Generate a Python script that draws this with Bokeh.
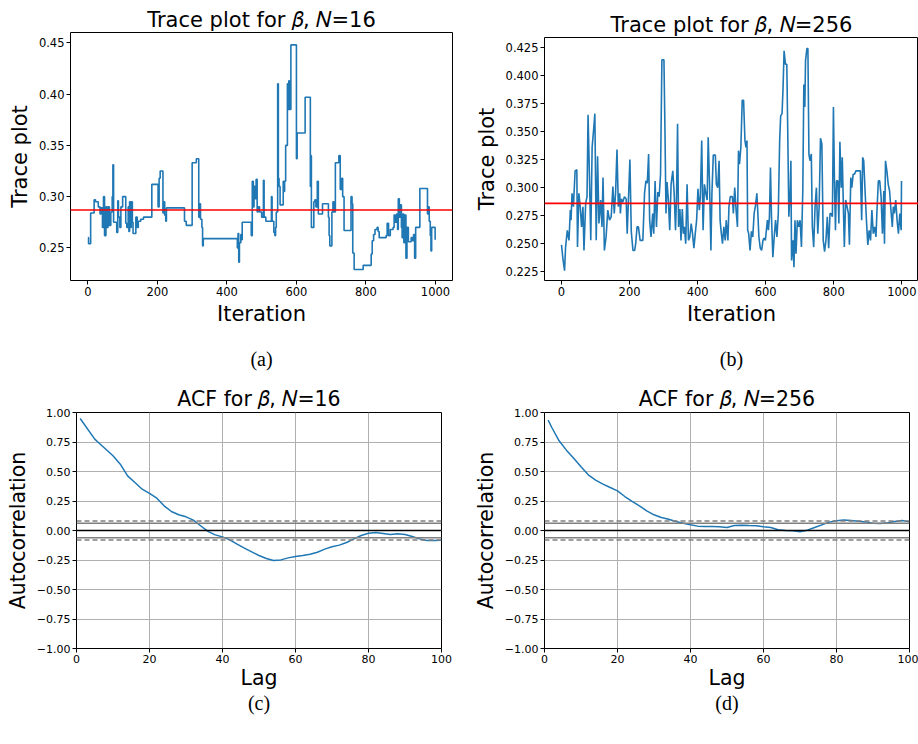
import numpy as np
from bokeh.plotting import figure
from bokeh.layouts import column, row
from bokeh.models import (Range1d, FixedTicker, LinearAxis, Span,
                          CustomJSTickFormatter, PrintfTickFormatter)
from bokeh.embed import file_html
from bokeh.resources import INLINE

# ---------------------------------------------------------------- data
# Trace of beta for N=16 (piecewise-constant chain: iteration where a new value starts)
a_iter = [0, 2, 8, 18, 22, 30, 35, 38, 42, 45,
          48, 52, 55, 58, 62, 66, 70, 72, 74, 80,
          83, 86, 88, 92, 95, 100, 109, 112, 116, 118,
          120, 123, 125, 128, 130, 138, 142, 145, 152, 160,
          184, 202, 205, 208, 216, 219, 221, 224, 226, 278,
          283, 300, 312, 319, 322, 324, 328, 330, 332, 430,
          432, 434, 436, 440, 442, 444, 470, 473, 476, 478,
          481, 484, 487, 490, 494, 500, 505, 507, 512, 528,
          530, 535, 538, 540, 542, 546, 548, 550, 553, 562,
          564, 566, 569, 574, 576, 578, 580, 584, 600, 602,
          625, 640, 641, 643, 650, 653, 656, 660, 663, 675,
          692, 694, 696, 702, 705, 708, 712, 722, 726, 730,
          733, 737, 757, 760, 762, 766, 792, 815, 818, 822,
          826, 832, 835, 838, 858, 861, 865, 870, 878, 881,
          884, 888, 891, 893, 896, 899, 902, 904, 906, 909,
          912, 915, 918, 922, 930, 934, 937, 940, 943, 955,
          977, 979, 982, 985, 987, 989, 999]
a_value = [0.260, 0.254, 0.284, 0.297, 0.295, 0.290, 0.283, 0.289, 0.270, 0.300,
           0.262, 0.290, 0.270, 0.290, 0.272, 0.285, 0.300, 0.331, 0.275, 0.275,
           0.265, 0.296, 0.280, 0.270, 0.290, 0.300, 0.274, 0.270, 0.290, 0.266,
           0.295, 0.270, 0.295, 0.275, 0.264, 0.280, 0.270, 0.276, 0.278, 0.280,
           0.312, 0.290, 0.318, 0.325, 0.284, 0.295, 0.282, 0.276, 0.289, 0.276,
           0.272, 0.333, 0.337, 0.280, 0.293, 0.278, 0.270, 0.252, 0.259, 0.250,
           0.264, 0.236, 0.255, 0.263, 0.258, 0.275, 0.262, 0.315, 0.290, 0.310,
           0.298, 0.317, 0.285, 0.290, 0.285, 0.280, 0.316, 0.280, 0.276, 0.300,
           0.276, 0.265, 0.262, 0.270, 0.285, 0.410, 0.318, 0.310, 0.292, 0.315,
           0.305, 0.315, 0.350, 0.410, 0.385, 0.413, 0.385, 0.448, 0.337, 0.362,
           0.397, 0.310, 0.340, 0.270, 0.295, 0.297, 0.290, 0.315, 0.283, 0.293,
           0.280, 0.262, 0.252, 0.285, 0.295, 0.285, 0.333, 0.340, 0.307, 0.318,
           0.300, 0.267, 0.300, 0.293, 0.245, 0.229, 0.233, 0.244, 0.257, 0.263,
           0.268, 0.270, 0.266, 0.260, 0.262, 0.274, 0.262, 0.268, 0.270, 0.282,
           0.275, 0.283, 0.268, 0.298, 0.280, 0.292, 0.270, 0.260, 0.283, 0.255,
           0.282, 0.240, 0.270, 0.256, 0.260, 0.257, 0.263, 0.240, 0.270, 0.308,
           0.283, 0.290, 0.276, 0.262, 0.247, 0.270, 0.258]

# Trace of beta for N=256
b_iter = [0, 4, 9, 12, 17, 22, 26, 28, 31, 35,
          40, 45, 47, 51, 55, 59, 63, 66, 71, 75,
          78, 82, 86, 90, 95, 98, 102, 106, 110, 115,
          119, 122, 126, 131, 136, 141, 146, 151, 155, 159,
          163, 167, 171, 173, 176, 180, 185, 190, 193, 197,
          201, 205, 210, 215, 218, 222, 226, 231, 239, 244,
          248, 252, 256, 259, 263, 268, 271, 275, 279, 283,
          287, 291, 295, 301, 304, 307, 310, 314, 318, 322,
          327, 331, 335, 338, 341, 344, 348, 351, 355, 358,
          361, 365, 369, 373, 377, 381, 385, 389, 393, 397,
          401, 405, 408, 412, 416, 420, 424, 428, 431, 435,
          439, 442, 446, 452, 455, 459, 463, 466, 469, 473,
          477, 481, 484, 489, 492, 496, 502, 505, 509, 513,
          517, 520, 523, 527, 531, 535, 539, 542, 545, 547,
          550, 554, 558, 562, 566, 570, 574, 577, 580, 584,
          588, 592, 595, 599, 602, 605, 608, 611, 614, 617,
          621, 625, 629, 633, 637, 641, 644, 648, 651, 654,
          658, 662, 665, 668, 672, 674, 676, 680, 683, 686,
          689, 693, 697, 701, 705, 709, 712, 715, 717, 721,
          724, 727, 730, 734, 737, 741, 745, 749, 753, 757,
          761, 765, 769, 773, 777, 781, 785, 789, 792, 796,
          799, 802, 805, 808, 812, 815, 818, 822, 825, 828,
          831, 835, 839, 843, 846, 850, 853, 857, 861, 865,
          878, 882, 885, 888, 892, 896, 900, 904, 908, 912,
          916, 920, 924, 927, 931, 935, 939, 943, 947, 949,
          952, 956, 960, 964, 968, 972, 975, 978, 982, 986,
          990, 994, 998, 999]
b_value = [0.249, 0.237, 0.226, 0.247, 0.262, 0.253, 0.280, 0.271, 0.295, 0.283,
           0.315, 0.316, 0.247, 0.295, 0.283, 0.265, 0.283, 0.244, 0.286, 0.292,
           0.365, 0.312, 0.253, 0.336, 0.354, 0.366, 0.253, 0.328, 0.268, 0.289,
           0.265, 0.309, 0.244, 0.256, 0.280, 0.271, 0.274, 0.301, 0.277, 0.296,
           0.334, 0.283, 0.295, 0.277, 0.290, 0.287, 0.292, 0.290, 0.259, 0.292,
           0.325, 0.261, 0.244, 0.244, 0.250, 0.265, 0.265, 0.253, 0.253, 0.295,
           0.306, 0.304, 0.330, 0.271, 0.256, 0.277, 0.259, 0.306, 0.265, 0.296,
           0.292, 0.312, 0.414, 0.414, 0.351, 0.277, 0.305, 0.289, 0.262, 0.303,
           0.315, 0.295, 0.262, 0.292, 0.357, 0.265, 0.281, 0.253, 0.281, 0.259,
           0.265, 0.250, 0.303, 0.253, 0.256, 0.268, 0.259, 0.246, 0.259, 0.271,
           0.299, 0.280, 0.292, 0.342, 0.262, 0.303, 0.295, 0.289, 0.345, 0.303,
           0.244, 0.295, 0.329, 0.329, 0.303, 0.300, 0.324, 0.271, 0.261, 0.250,
           0.265, 0.253, 0.271, 0.253, 0.283, 0.292, 0.292, 0.277, 0.300, 0.280,
           0.265, 0.333, 0.321, 0.336, 0.378, 0.378, 0.342, 0.336, 0.342, 0.262,
           0.259, 0.244, 0.261, 0.256, 0.277, 0.284, 0.295, 0.277, 0.256, 0.246,
           0.244, 0.253, 0.255, 0.253, 0.262, 0.271, 0.262, 0.274, 0.318, 0.274,
           0.238, 0.256, 0.271, 0.256, 0.277, 0.342, 0.364, 0.366, 0.389, 0.422,
           0.410, 0.410, 0.345, 0.274, 0.297, 0.324, 0.235, 0.253, 0.229, 0.271,
           0.241, 0.271, 0.265, 0.271, 0.247, 0.297, 0.392, 0.372, 0.413, 0.424,
           0.424, 0.330, 0.324, 0.330, 0.265, 0.247, 0.283, 0.300, 0.259, 0.283,
           0.344, 0.339, 0.253, 0.243, 0.253, 0.274, 0.246, 0.277, 0.277, 0.274,
           0.372, 0.306, 0.262, 0.306, 0.306, 0.268, 0.341, 0.300, 0.327, 0.286,
           0.247, 0.289, 0.283, 0.277, 0.249, 0.309, 0.300, 0.312, 0.312, 0.315,
           0.315, 0.271, 0.327, 0.324, 0.297, 0.271, 0.249, 0.262, 0.253, 0.280,
           0.259, 0.265, 0.256, 0.280, 0.306, 0.306, 0.292, 0.259, 0.297, 0.250,
           0.324, 0.315, 0.303, 0.297, 0.280, 0.265, 0.283, 0.277, 0.289, 0.271,
           0.259, 0.277, 0.262, 0.306]

# Reference value of beta drawn across each trace
beta_ref_16 = 0.287
beta_ref_256 = 0.286

# Autocorrelation functions
c_lag = [1, 5, 6, 10, 12, 14, 16, 18, 20, 22, 24, 26, 28, 30, 32, 34, 36, 38, 40,
         42, 44, 46, 48, 50, 52, 54, 56, 58, 60, 62, 64, 66, 68, 70, 72, 74, 76,
         78, 80, 82, 84, 86, 88, 90, 92, 94, 96, 98, 100]
c_acf = [0.949, 0.774, 0.746, 0.633, 0.562, 0.463, 0.407, 0.350, 0.314, 0.274,
         0.209, 0.161, 0.133, 0.116, 0.088, 0.040, -0.008, -0.037, -0.054,
         -0.079, -0.116, -0.150, -0.181, -0.212, -0.237, -0.254, -0.249, -0.232,
         -0.220, -0.212, -0.201, -0.184, -0.158, -0.138, -0.124, -0.102, -0.071,
         -0.042, -0.023, -0.017, -0.025, -0.034, -0.028, -0.034, -0.051, -0.071,
         -0.085, -0.085, -0.082]
d_lag = [1, 2, 4, 6, 8, 10, 12, 14, 16, 18, 20, 22, 24, 26, 28, 30, 32, 34, 36,
         38, 40, 42, 44, 46, 48, 50, 52, 54, 56, 58, 60, 62, 64, 66, 68, 70, 72,
         74, 76, 78, 80, 82, 84, 86, 88, 90, 92, 94, 96, 98, 100]
d_acf = [0.935, 0.873, 0.760, 0.681, 0.613, 0.540, 0.472, 0.427, 0.393, 0.364,
         0.336, 0.288, 0.246, 0.209, 0.167, 0.133, 0.110, 0.096, 0.076, 0.062,
         0.048, 0.037, 0.034, 0.034, 0.031, 0.025, 0.042, 0.045, 0.042, 0.040,
         0.031, 0.025, 0.006, 0.000, -0.003, -0.011, 0.003, 0.025, 0.048, 0.071,
         0.082, 0.088, 0.085, 0.079, 0.073, 0.062, 0.059, 0.065, 0.076, 0.085,
         0.073]

# 95% / 99% confidence bands for a chain of 1000 draws
conf95 = 0.062
conf99 = 0.081

trace_xticks = [0, 200, 400, 600, 800, 1000]
trace_a_yticks = [0.25, 0.30, 0.35, 0.40, 0.45]
trace_b_yticks = [0.225, 0.250, 0.275, 0.300, 0.325, 0.350, 0.375, 0.400, 0.425]
acf_xticks = [0, 20, 40, 60, 80, 100]
acf_yticks = [-1.0, -0.75, -0.5, -0.25, 0.0, 0.25, 0.5, 0.75, 1.0]

BLUE = "#1f77b4"
SANS = "DejaVu Sans"
SERIF = "Liberation Serif"
BETA = "\U0001D6FD"
N_IT = "\U0001D441"


def make_fig(title, width, height, left, right, top, bottom, x_range, y_range,
             title_size, label_size, tick_size, title_standoff):
    p = figure(width=width, height=height, x_range=x_range, y_range=y_range,
               output_backend="svg", toolbar_location=None,
               min_border_left=left, min_border_right=right,
               min_border_top=top, min_border_bottom=bottom)
    p.frame_align = False
    p.title.text = title
    p.title.align = "center"
    p.title.text_font = SANS
    p.title.text_font_size = title_size
    p.title.text_font_style = "normal"
    p.title.text_color = "black"
    p.title.standoff = title_standoff
    p.outline_line_color = "black"
    p.outline_line_width = 1
    p.outline_line_alpha = 1
    p.background_fill_color = "white"
    p.border_fill_color = "white"
    for ax in (p.xaxis[0], p.yaxis[0]):
        ax.axis_line_color = None
        ax.major_tick_out = 4
        ax.major_tick_in = 0
        ax.major_tick_line_color = "black"
        ax.minor_tick_line_color = None
        ax.major_label_text_font = SANS
        ax.major_label_text_font_size = tick_size
        ax.major_label_text_color = "black"
        ax.major_label_standoff = 2
        ax.axis_label_text_font = SANS
        ax.axis_label_text_font_size = label_size
        ax.axis_label_text_font_style = "normal"
        ax.axis_label_text_color = "black"
        ax.axis_label_standoff = 4
    return p


def add_caption(p, text, standoff):
    cap = LinearAxis(ticker=FixedTicker(ticks=[]), axis_label=text,
                     axis_line_color=None, major_tick_line_color=None,
                     minor_tick_line_color=None, major_tick_out=0,
                     major_label_text_font_size="0px",
                     axis_label_text_font=SERIF, axis_label_text_font_size="20px",
                     axis_label_text_font_style="normal",
                     axis_label_text_color="black", axis_label_standoff=standoff)
    p.add_layout(cap, "below")


def trace_fig(title, left, right, top, y_range, yticks, fmt):
    p = make_fig(title, 459, 372, left, right, top, 92,
                 Range1d(-49.95, 1048.95), y_range, "21px", "21px", "11.5px", 1)
    p.grid.visible = False
    p.xaxis[0].ticker = FixedTicker(ticks=trace_xticks)
    p.yaxis[0].ticker = FixedTicker(ticks=yticks)
    p.yaxis[0].formatter = PrintfTickFormatter(format=fmt)
    p.xaxis[0].axis_label = "Iteration"
    p.xaxis[0].axis_label_standoff = 3
    p.yaxis[0].axis_label = "Trace plot"
    return p


def acf_fig(title, left, right, lag, acf):
    p = make_fig(title, 459, 372, left, right, 40, 96,
                 Range1d(0, 100), Range1d(-1, 1), "20.5px", "20.5px", "11px", 4)
    p.xaxis[0].ticker = FixedTicker(ticks=acf_xticks)
    p.yaxis[0].ticker = FixedTicker(ticks=acf_yticks)
    p.yaxis[0].formatter = CustomJSTickFormatter(
        code="return tick.toFixed(2).replace('-', '\\u2212');")
    p.xaxis[0].axis_label = "Lag"
    p.xaxis[0].axis_label_standoff = 0
    p.yaxis[0].axis_label = "Autocorrelation"
    p.grid.grid_line_color = "#b0b0b0"
    p.grid.grid_line_width = 1
    for level in (conf99, -conf99):
        p.add_layout(Span(location=level, dimension="width", line_color="grey",
                          line_width=1.5, line_dash="5 3"))
    for level in (conf95, -conf95):
        p.add_layout(Span(location=level, dimension="width", line_color="grey",
                          line_width=1.5))
    p.add_layout(Span(location=0.0, dimension="width", line_color="black",
                      line_width=1.5))
    p.line(lag, acf, line_color=BLUE, line_width=1.5)
    return p


# (a) trace plot, N=16
pa = trace_fig(f"Trace plot for {BETA}, {N_IT}=16", 70, 7, 32,
               Range1d(0.2182, 0.4601), trace_a_yticks, "%.2f")
pa.step(a_iter, a_value, mode="after", line_color=BLUE, line_width=1.6)
pa.add_layout(Span(location=beta_ref_16, dimension="width",
                   line_color="red", line_width=1.6))
add_caption(pa, "(a)", 19)

# (b) trace plot, N=256
pb = trace_fig(f"Trace plot for {BETA}, {N_IT}=256", 85, 0, 37,
               Range1d(0.2172, 0.4339), trace_b_yticks, "%.3f")
pb.line(b_iter, b_value, line_color=BLUE, line_width=1.6)
pb.add_layout(Span(location=beta_ref_256, dimension="width",
                   line_color="red", line_width=1.6))
add_caption(pb, "(b)", 19)

# (c) ACF, N=16
pc = acf_fig(f"ACF for {BETA}, {N_IT}=16", 76, 18, c_lag, c_acf)
add_caption(pc, "(c)", -1)

# (d) ACF, N=256
pd_ = acf_fig(f"ACF for {BETA}, {N_IT}=256", 85, 9, d_lag, d_acf)
add_caption(pd_, "(d)", -1)

layout = column(row(pa, pb), row(pc, pd_))

with open("out.html", "w") as f:
    f.write(file_html(layout, INLINE))
